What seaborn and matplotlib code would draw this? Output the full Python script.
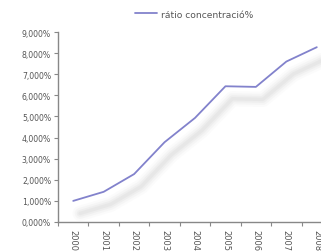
import pandas as pd
import numpy as np
import matplotlib
matplotlib.use("Agg")
import matplotlib.pyplot as plt
import matplotlib.patheffects as pe
from matplotlib.ticker import FuncFormatter, FixedLocator
import seaborn as sns

# data
years = ['2000', '2001', '2002', '2003', '2004', '2005', '2006', '2007', '2008']
ratio = [1.00, 1.43, 2.27, 3.78, 4.93, 6.43, 6.40, 7.60, 8.28]
label = 'rátio concentració%'

df = pd.DataFrame({'year': years, 'ratio': ratio, 'serie': label})

sns.set_style('white')
plt.rcParams['font.family'] = ['DejaVu Sans']

fig = plt.figure(figsize=(3.21, 2.53), dpi=100)
ax = fig.add_axes([58 / 321, 30 / 253, 274 / 321, 190 / 253])

line_col = '#8282cc'
txt_col = '#555555'
# soft drop shadow under the line
shadow = [
    pe.SimpleLineShadow(offset=(5, -9), shadow_color='#d0d0d0', alpha=0.08, linewidth=11),
    pe.SimpleLineShadow(offset=(5, -9), shadow_color='#c8c8c8', alpha=0.10, linewidth=8),
    pe.SimpleLineShadow(offset=(5, -9), shadow_color='#c0c0c0', alpha=0.12, linewidth=5),
    pe.SimpleLineShadow(offset=(5, -9), shadow_color='#b8b8b8', alpha=0.12, linewidth=2.5),
    pe.Normal(),
]
sns.lineplot(data=df, x='year', y='ratio', hue='serie', palette=[line_col],
             linewidth=1.3, ax=ax, legend=False, sort=False)
ax.lines[0].set_path_effects(shadow)

ax.set_xlim(-0.5, len(years) - 0.5)
ax.set_ylim(0, 9)
ax.yaxis.set_major_locator(FixedLocator(np.arange(0, 10, 1)))
ax.yaxis.set_major_formatter(FuncFormatter(lambda v, p: f'{v:.3f}%'.replace('.', ',')))

# category ticks between the categories, labels in the middle
ax.set_xticks(np.arange(len(years)) - 0.5)
ax.set_xticklabels([])
ax.set_xticks(np.arange(len(years)), minor=True)
ax.set_xticklabels(years, minor=True, rotation=-90, fontsize=6, color=txt_col)
ax.tick_params(axis='x', which='minor', length=0, pad=5)
ax.tick_params(axis='x', which='major', direction='out', length=3, color='#888888', bottom=True)
ax.tick_params(axis='y', direction='out', length=3, color='#888888', labelsize=5.6,
               labelcolor=txt_col, left=True, pad=2)

for s in ['top', 'right']:
    ax.spines[s].set_visible(False)
for s in ['left', 'bottom']:
    ax.spines[s].set_color('#888888')
    ax.spines[s].set_linewidth(1.0)
ax.set_xlabel('')
ax.set_ylabel('')

handle = plt.Line2D([], [], color=line_col, linewidth=1.3)
fig.legend([handle], [label], loc='center', bbox_to_anchor=(194 / 321, 1 - 15 / 253),
           frameon=False, fontsize=6.6, handlelength=2.4, handletextpad=0.4,
           labelcolor=txt_col)

fig.savefig('out.png', dpi=100)
